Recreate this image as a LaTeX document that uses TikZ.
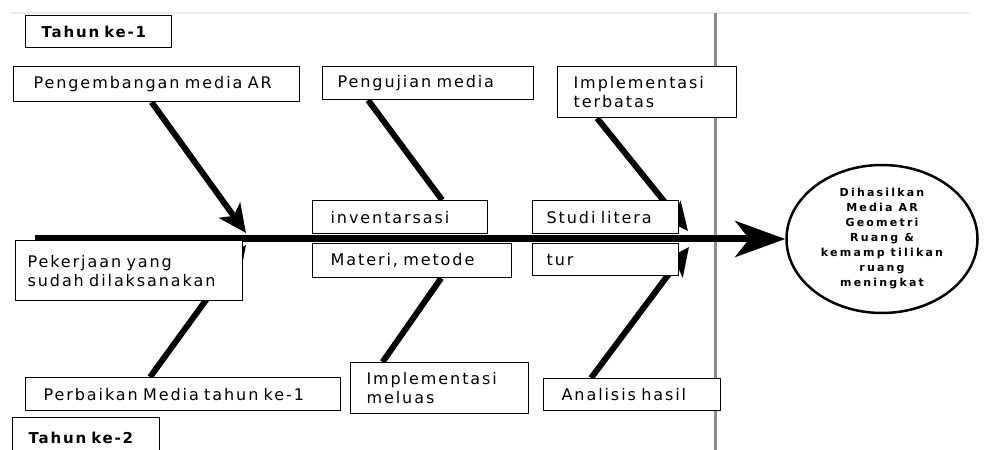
\documentclass[tikz,border=0pt]{standalone}
\usepackage{fontspec}
\usetikzlibrary{arrows.meta,shapes.geometric,backgrounds,calc}
\newfontfamily\boxfont[LetterSpace=12]{DejaVu Sans}
\newfontfamily\resfont[LetterSpace=20]{DejaVu Sans}
\hyphenpenalty=10000 \exhyphenpenalty=10000
\tikzset{
  box/.style={draw,line width=1.2bp,fill=white,anchor=north west,align=left,
    inner ysep=0pt,font=\boxfont\fontsize{16bp}{19bp}\selectfont},
  yearbox/.style={box,font=\boxfont\bfseries\fontsize{15bp}{18bp}\selectfont},
  bone/.style={line width=6bp},
  bonetip/.style={bone,-{Stealth[length=28bp,width=26bp,inset=7bp]}},
  spine/.style={line width=7bp,-{Stealth[length=50bp,width=36bp,inset=14bp]}},
}
\begin{document}
\begin{tikzpicture}[>=latex,line join=bevel,]
\useasboundingbox (0bp,0bp) rectangle (995bp,450bp);
%%
\node (tahun1) at (25bp,435bp) [yearbox,text width=114bp,inner xsep=16bp,minimum height=32bp] {Tahun ke-1};
  \node (kembang) at (13bp,384bp) [box,text width=246bp,inner xsep=20bp,minimum height=35bp] {Pengembangan media AR};
  \node (uji) at (322bp,384bp) [box,text width=181bp,inner xsep=15bp,minimum height=33bp] {Pengujian media};
  \node (terbatas) at (557bp,384bp) [box,text width=147bp,inner xsep=16bp,minimum height=51bp] {Implementasi\\terbatas};
  \node (inv) at (312bp,250bp) [box,text width=139bp,inner xsep=18bp,minimum height=33bp] {inventarsasi};
  \node (materi) at (312bp,207bp) [box,text width=163bp,inner xsep=18bp,minimum height=34bp] {Materi, metode};
  \node (studi) at (532bp,250bp) [box,text width=118bp,inner xsep=14bp,minimum height=33bp] {Studi litera};
  \node (tur) at (532bp,207bp) [box,text width=118bp,inner xsep=14bp,minimum height=32bp] {tur};
  \node (kerja) at (15bp,210bp) [box,text width=203bp,inner xsep=12bp,minimum height=60bp] {Pekerjaan yang\\sudah dilaksanakan};
  \node (perbaikan) at (25bp,73bp) [box,text width=279bp,inner xsep=18bp,minimum height=33bp] {Perbaikan Media tahun ke-1};
  \node (meluas) at (350bp,88bp) [box,text width=146bp,inner xsep=16bp,minimum height=51bp] {Implementasi\\meluas};
  \node (analisis) at (543bp,72bp) [box,text width=141bp,inner xsep=18bp,minimum height=32bp] {Analisis hasil};
  \node (tahun2) at (12bp,33bp) [yearbox,text width=115bp,inner xsep=16bp,minimum height=40bp] {Tahun ke-2};
  \node (hasil) at (882bp,211bp) [draw,ellipse,line width=2.5bp,minimum width=191bp,minimum height=148bp,inner sep=0pt,align=center,font=\resfont\bfseries\fontsize{11bp}{15bp}\selectfont] {Dihasilkan\\Media AR\\Geometri\\Ruang \&\\kemamp tilikan\\ruang\\meningkat};
%
\coordinate (ekor) at (35bp,211bp);
  \coordinate (tip1) at (246bp,217bp);
  \coordinate (tip3) at (688bp,219bp);
  \coordinate (tip4) at (246bp,205bp);
  \coordinate (tip6) at (689bp,203bp);
  \coordinate (batasatas) at (715bp,437bp);
  \coordinate (batasbawah) at (715bp,0bp);
  \coordinate (garis1) at (10bp,437bp);
  \coordinate (garis2) at (970bp,437bp);
%
\begin{scope}[on background layer]
  \draw [black!8,line width=2bp] (garis1) -- (garis2);
  \draw [black!45,line width=3bp] (batasatas) -- (batasbawah);
  \draw [spine] (ekor) -- (hasil.west);
  \draw [bonetip] ([xshift=-5bp]kembang.south) -- (tip1);
  \draw [bone] ([xshift=-60bp]uji.south) -- ([xshift=42bp]inv.north);
  \draw [bonetip] ([xshift=-50bp]terbatas.south) -- (tip3);
  \draw [bonetip] ([xshift=-33bp]perbaikan.north) -- (tip4);
  \draw [bone] ([xshift=-57bp]meluas.north) -- ([xshift=29bp]materi.south);
  \draw [bonetip] ([xshift=-41bp]analisis.north) -- (tip6);
\end{scope}
%
\end{tikzpicture}
\end{document}
